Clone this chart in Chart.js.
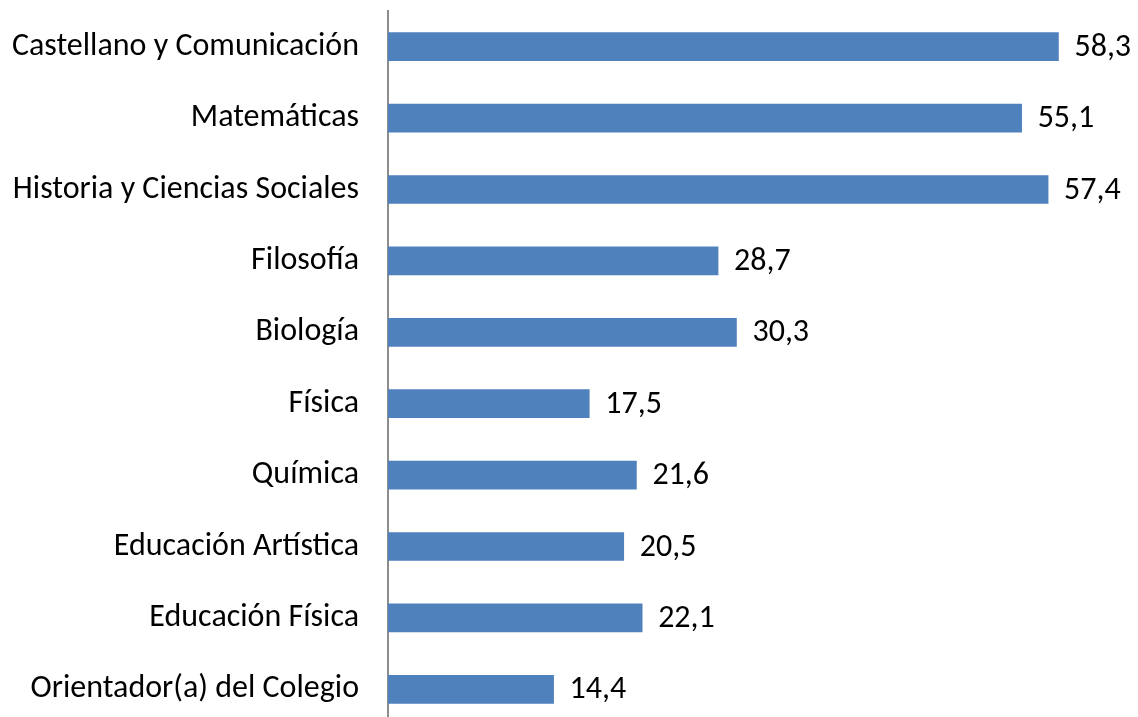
<!DOCTYPE html>
<html lang="es">
<head>
  <meta charset="UTF-8">
  <title>Asignaturas</title>
  <script src="https://cdn.jsdelivr.net/npm/chart.js"></script>
  <style>
    html, body { margin: 0; padding: 0; overflow: hidden; background: #fff; }
    #wrap { position: relative; width: 1138px; height: 725px; }
  </style>
</head>
<body>
  <div id="wrap"><canvas id="chart"></canvas></div>

  <script>
    const categories = [
      'Castellano y Comunicación',
      'Matemáticas',
      'Historia y Ciencias Sociales',
      'Filosofía',
      'Biología',
      'Física',
      'Química',
      'Educación Artística',
      'Educación Física',
      'Orientador(a) del Colegio'
    ];
    const values = [58.3, 55.1, 57.4, 28.7, 30.3, 17.5, 21.6, 20.5, 22.1, 14.4];

    const fontFamily = 'Carlito, Calibri, Lato, sans-serif';

    // value labels to the right of each bar, with decimal comma
    const valueLabels = {
      id: 'valueLabels',
      afterDatasetsDraw(chart) {
        const c = chart.ctx;
        const meta = chart.getDatasetMeta(0);
        c.save();
        c.font = '32px ' + fontFamily;
        c.fillStyle = '#000';
        c.textAlign = 'left';
        c.textBaseline = 'middle';
        meta.data.forEach((bar, i) => {
          c.fillText(values[i].toFixed(1).replace('.', ','), bar.x + 16, bar.y + 1);
        });
        c.restore();
      }
    };

    const ctx = document.getElementById('chart').getContext('2d');
    new Chart(ctx, {
      type: 'bar',
      data: {
        labels: categories,
        datasets: [{
          data: values,
          backgroundColor: '#4F81BD',
          borderWidth: 0,
          barThickness: 28
        }]
      },
      options: {
        indexAxis: 'y',
        responsive: true,
        maintainAspectRatio: false,
        animation: false,
        layout: { padding: { top: 11, right: 60, bottom: 0, left: 0 } },
        plugins: {
          legend: { display: false },
          tooltip: { enabled: false }
        },
        scales: {
          x: {
            display: false,
            min: 0,
            max: 60
          },
          y: {
            grid: { display: false, drawTicks: false },
            border: { display: true, color: '#8c8c8c', width: 2 },
            ticks: {
              color: '#000',
              padding: 29,
              font: { family: fontFamily, size: 32 }
            },
            afterFit(scale) {
              // keep the tick padding from shrinking the plot vertically
              scale.paddingTop = 0;
              scale.paddingBottom = 0;
              scale.width = 388;
            }
          }
        }
      },
      plugins: [valueLabels]
    });
  </script>
</body>
</html>
